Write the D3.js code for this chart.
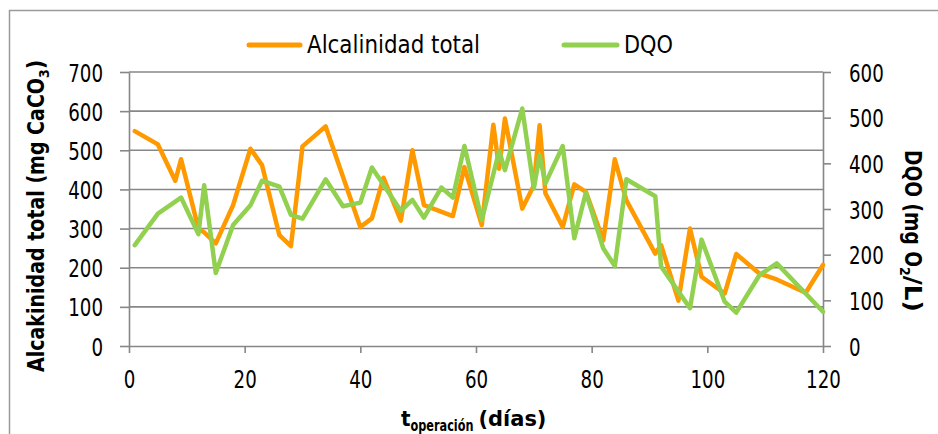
<!DOCTYPE html>
<html>
<head>
<meta charset="utf-8">
<script src="https://cdn.jsdelivr.net/npm/d3@7"></script>
<style>
  html, body { margin: 0; padding: 0; background: #fff; }
  svg { display: block; }
  text { font-family: "Liberation Sans Narrow", "DejaVu Sans Condensed", "Liberation Sans", Arial, sans-serif; fill: #000; }
</style>
</head>
<body>
<svg id="chart" width="938" height="434"></svg>
<script>
// Operating days and measured values
const alkDays = [1, 5, 8, 9, 12, 13, 15, 18, 21, 23, 26, 28, 30, 34, 40, 42, 44, 47, 49, 51, 56, 58,
  61, 63, 64, 65, 68, 70, 71, 72, 75, 77, 79, 82, 84, 86, 91, 92, 95, 97, 99, 103, 105, 109, 112, 117, 120];
const alkValues = [549, 515, 422, 477, 300, 290, 262, 360, 504, 462, 283, 255, 510, 561, 304, 326, 430, 320, 500, 360, 332, 457,
  309, 565, 453, 581, 351, 410, 564, 390, 304, 413, 394, 270, 477, 372, 236, 258, 116, 300, 177, 134, 235, 185, 170, 136, 207];

const dqoDays = [1, 5, 9, 12, 13, 15, 18, 21, 23, 26, 28, 30, 34, 37, 40, 42, 47, 49, 51, 54, 56, 58,
  61, 64, 65, 68, 70, 71, 72, 75, 77, 79, 82, 84, 86, 91, 92, 97, 99, 103, 105, 109, 112, 117, 120];
const dqoValues = [221, 290, 325, 245, 352, 160, 265, 308, 362, 349, 287, 279, 365, 306, 314, 391, 296, 320, 281, 347, 325, 438,
  276, 427, 385, 520, 345, 418, 356, 438, 236, 336, 214, 175, 365, 328, 174, 83, 233, 97, 73, 155, 181, 115, 75];

// Axis ticks
const xTicks = [0, 20, 40, 60, 80, 100, 120];
const leftTicks = [0, 100, 200, 300, 400, 500, 600, 700];
const rightTicks = [0, 100, 200, 300, 400, 500, 600];

const seriesNames = ["Alcalinidad total", "DQO"];
const colors = { alk: "#FF9900", dqo: "#92D050" };

const svg = d3.select("#chart");
const plot = { left: 129, right: 823, top: 72, bottom: 346 };

const x = d3.scaleLinear().domain([0, 120]).range([plot.left, plot.right]);
const yL = d3.scaleLinear().domain([0, 700]).range([plot.bottom, plot.top]);
const yR = d3.scaleLinear().domain([0, 600]).range([plot.bottom, plot.top]);

const gridColor = "#878787";

// Outer chart frame
svg.append("rect")
  .attr("x", 9.5).attr("y", 10.5).attr("width", 940).attr("height", 440)
  .attr("fill", "none").attr("stroke", "#9a9a9a").attr("stroke-width", 1.5);

// Horizontal gridlines at left-axis ticks
svg.append("g")
  .selectAll("line").data(leftTicks.filter(d => d > 0)).join("line")
  .attr("x1", plot.left).attr("x2", plot.right)
  .attr("y1", d => yL(d)).attr("y2", d => yL(d))
  .attr("stroke", gridColor).attr("stroke-width", 1.6);

function styleAxis(g) {
  g.select(".domain").attr("stroke", gridColor).attr("stroke-width", 1.6);
  g.selectAll(".tick line").attr("stroke", gridColor).attr("stroke-width", 1.6);
  g.selectAll(".tick text")
    .attr("font-size", 25)
    .attr("font-family", "\"Liberation Sans Narrow\", \"DejaVu Sans Condensed\", \"Liberation Sans\", Arial, sans-serif")
    .attr("fill", "#000")
    .attr("textLength", function () { return this.textContent.length * 11.6; })
    .attr("lengthAdjust", "spacingAndGlyphs");
}

// Left axis
svg.append("g")
  .attr("transform", `translate(${plot.left},0)`)
  .call(d3.axisLeft(yL).tickValues(leftTicks).tickSizeInner(9).tickSizeOuter(0).tickPadding(17))
  .call(styleAxis)
  .selectAll(".tick text").attr("dy", "0.36em");

// Right axis
svg.append("g")
  .attr("transform", `translate(${plot.right},0)`)
  .call(d3.axisRight(yR).tickValues(rightTicks).tickSizeInner(8).tickSizeOuter(0).tickPadding(18))
  .call(styleAxis)
  .selectAll(".tick text").attr("dy", "0.36em");

// Bottom axis
svg.append("g")
  .attr("transform", `translate(0,${plot.bottom})`)
  .call(d3.axisBottom(x).tickValues(xTicks).tickSizeInner(7).tickSizeOuter(0).tickPadding(17))
  .call(styleAxis);

// Series lines
const lineGen = d3.line().x(d => x(d[0]));
const alkPts = alkDays.map((d, i) => [d, alkValues[i]]);
const dqoPts = dqoDays.map((d, i) => [d, dqoValues[i]]);

svg.append("path")
  .attr("d", lineGen.y(d => yL(d[1]))(alkPts))
  .attr("fill", "none").attr("stroke", colors.alk).attr("stroke-width", 4.5)
  .attr("stroke-linejoin", "round").attr("stroke-linecap", "round");

svg.append("path")
  .attr("d", lineGen.y(d => yR(d[1]))(dqoPts))
  .attr("fill", "none").attr("stroke", colors.dqo).attr("stroke-width", 4.5)
  .attr("stroke-linejoin", "round").attr("stroke-linecap", "round");

// Legend
const legend = [
  { name: seriesNames[0], color: colors.alk, x0: 249, x1: 300, tx: 307, tw: 173 },
  { name: seriesNames[1], color: colors.dqo, x0: 564, x1: 617, tx: 624, tw: 49 }
];
const lg = svg.append("g");
legend.forEach(l => {
  lg.append("line").attr("x1", l.x0).attr("x2", l.x1).attr("y1", 45).attr("y2", 45)
    .attr("stroke", l.color).attr("stroke-width", 5).attr("stroke-linecap", "round");
  lg.append("text").attr("x", l.tx).attr("y", 53).attr("font-size", 25)
    .attr("textLength", l.tw).attr("lengthAdjust", "spacingAndGlyphs").text(l.name);
});

// Axis titles
const leftTitle = svg.append("text")
  .attr("transform", "translate(44,372) rotate(-90)")
  .attr("font-size", 23).attr("font-weight", "bold");
leftTitle.append("tspan").attr("textLength", 294).attr("lengthAdjust", "spacingAndGlyphs")
  .text("Alcakinidad total (mg CaCO");
leftTitle.append("tspan").attr("font-size", 14).attr("dy", 5).text("3");
leftTitle.append("tspan").attr("dy", -5).text(")");

const rightTitle = svg.append("text")
  .attr("transform", "translate(905,150) rotate(90)")
  .attr("font-size", 23).attr("font-weight", "bold");
rightTitle.append("tspan").attr("textLength", 117).attr("lengthAdjust", "spacingAndGlyphs")
  .text("DQO (mg O");
rightTitle.append("tspan").attr("font-size", 14).attr("dy", 5).text("2");
rightTitle.append("tspan").attr("dy", -5).attr("textLength", 36).attr("lengthAdjust", "spacingAndGlyphs").text("/L)");

const xTitle = svg.append("text")
  .attr("x", 401).attr("y", 426)
  .attr("font-size", 22).attr("font-weight", "bold");
xTitle.append("tspan").text("t");
xTitle.append("tspan").attr("font-size", 15).attr("dy", 5)
  .attr("textLength", 63).attr("lengthAdjust", "spacingAndGlyphs").text("operación");
xTitle.append("tspan").attr("dy", -5).attr("dx", 5)
  .attr("textLength", 68).attr("lengthAdjust", "spacingAndGlyphs").text("(días)");
</script>
</body>
</html>
